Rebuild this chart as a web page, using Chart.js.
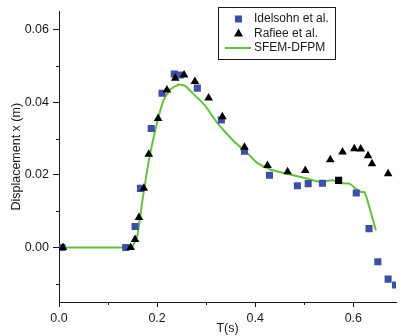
<!DOCTYPE html>
<html><head><meta charset="utf-8">
<script src="https://cdn.jsdelivr.net/npm/chart.js@4"></script>
<style>html,body{margin:0;padding:0;background:#fff}</style>
</head><body>
<canvas id="c" width="401" height="336"></canvas>
<script>
// ---- data ----
const idelsohnT = [0.006, 0.136, 0.155, 0.166, 0.188, 0.210, 0.235, 0.247, 0.282, 0.331, 0.378, 0.429, 0.486, 0.508, 0.537, 0.606, 0.632, 0.650, 0.671, 0.686];
const idelsohnX = [0, 0, 0.0058, 0.0163, 0.0328, 0.0425, 0.0478, 0.0475, 0.0439, 0.0351, 0.0265, 0.0199, 0.0170, 0.0176, 0.0177, 0.0150, 0.0052, -0.0039, -0.0087, -0.0103];
const extraT = [0.570];
const extraX = [0.0185];
const rafieeT = [0.008, 0.146, 0.155, 0.163, 0.173, 0.183, 0.202, 0.220, 0.237, 0.255, 0.277, 0.305, 0.333, 0.378, 0.425, 0.466, 0.502, 0.553, 0.578, 0.602, 0.615, 0.630, 0.638, 0.671];
const rafieeX = [0, 0, 0.0022, 0.0083, 0.0163, 0.0257, 0.0355, 0.0434, 0.0466, 0.0475, 0.0457, 0.0412, 0.0360, 0.0276, 0.0226, 0.0209, 0.0212, 0.0242, 0.0263, 0.0272, 0.0271, 0.0253, 0.0231, 0.0203];
const sfemT = [0, 0.143, 0.147, 0.159, 0.170, 0.183, 0.197, 0.213, 0.227, 0.245, 0.258, 0.277, 0.297, 0.321, 0.337, 0.357, 0.384, 0.404, 0.431, 0.471, 0.505, 0.532, 0.559, 0.569, 0.592, 0.606, 0.616, 0.622, 0.627, 0.646];
const sfemX = [0, 0, -0.0003, 0.0029, 0.0129, 0.0238, 0.0328, 0.0405, 0.0435, 0.0449, 0.0444, 0.0419, 0.0392, 0.0346, 0.0321, 0.0292, 0.0260, 0.0233, 0.0215, 0.0201, 0.0190, 0.0181, 0.0185, 0.0178, 0.0176, 0.0161, 0.0153, 0.0153, 0.0138, 0.0047];
const seriesNames = ['Idelsohn et al.', 'Rafiee et al.', 'SFEM-DFPM'];
const xMajorTicks = [0, 0.2, 0.4, 0.6];
const xMinorTicks = [0.1, 0.3, 0.5];
const yMajorTicks = [0, 0.02, 0.04, 0.06];
const yMinorTicks = [-0.01, 0.01, 0.03, 0.05];
const xTitle = 'T(s)';
const yTitle = 'Displacement x (m)';

const pts = (t, v) => t.map((a, i) => ({x: a, y: v[i]}));
const BLUE = '#3d50a5', GREEN = '#66c140', INK = '#1a1a1a';
const FONT = {family: 'Liberation Sans, Arial, sans-serif', size: 12.5};

const overlay = {
  id: 'overlay',
  afterDraw(chart) {
    const {ctx, scales: {x, y}, chartArea: a} = chart;
    ctx.save();
    ctx.strokeStyle = INK; ctx.lineWidth = 1;
    ctx.beginPath();
    xMinorTicks.forEach(v => { const px = Math.round(x.getPixelForValue(v)) + 0.5; ctx.moveTo(px, a.bottom); ctx.lineTo(px, a.bottom + 3); });
    yMinorTicks.forEach(v => { const py = Math.round(y.getPixelForValue(v)) + 0.5; ctx.moveTo(a.left, py); ctx.lineTo(a.left - 3, py); });
    ctx.stroke();
    // legend
    ctx.fillStyle = '#fff';
    ctx.fillRect(218.5, 7.5, 117, 52);
    ctx.strokeStyle = INK; ctx.lineWidth = 1;
    ctx.strokeRect(218.5, 7.5, 117, 52);
    ctx.font = '12px "Liberation Sans", Arial, sans-serif';
    ctx.textBaseline = 'middle';
    const rows = [19, 33.5, 48];
    ctx.fillStyle = BLUE; ctx.fillRect(235, rows[0] - 3.5, 7, 7);
    ctx.fillStyle = '#000';
    ctx.beginPath(); ctx.moveTo(238.5, rows[1] - 5); ctx.lineTo(243, rows[1] + 3); ctx.lineTo(234, rows[1] + 3); ctx.closePath(); ctx.fill();
    ctx.strokeStyle = GREEN; ctx.lineWidth = 2;
    ctx.beginPath(); ctx.moveTo(225, rows[2]); ctx.lineTo(251, rows[2]); ctx.stroke();
    ctx.fillStyle = INK;
    seriesNames.forEach((n, i) => ctx.fillText(n, 254, rows[i]));
    ctx.restore();
  }
};

new Chart(document.getElementById('c'), {
  type: 'scatter',
  data: {
    datasets: [
      {label: seriesNames[2], type: 'line', data: pts(sfemT, sfemX), borderColor: GREEN, borderWidth: 2, pointRadius: 0, tension: 0.2, fill: false, order: 3},
      {label: seriesNames[0], data: pts(idelsohnT, idelsohnX), pointStyle: 'rect', pointRadius: 5, backgroundColor: BLUE, borderColor: BLUE, borderWidth: 0, order: 2},
      {label: '', data: pts(extraT, extraX), pointStyle: 'rect', pointRadius: 5, backgroundColor: '#000', borderWidth: 0, order: 2},
      {label: seriesNames[1], data: pts(rafieeT, rafieeX), pointStyle: 'triangle', pointRadius: 5, backgroundColor: '#000', borderColor: '#000', borderWidth: 0, order: 1}
    ]
  },
  options: {
    responsive: false, animation: false, devicePixelRatio: 1,
    layout: {padding: {top: 8, right: 0, left: 0, bottom: 0}},
    plugins: {legend: {display: false}, tooltip: {enabled: false}},
    scales: {
      x: {
        type: 'linear', min: 0, max: 0.687,
        afterBuildTicks: s => { s.ticks = xMajorTicks.map(v => ({value: v})); },
        afterFit: s => { s.height = 34; },
        ticks: {color: INK, font: FONT, padding: 4, maxRotation: 0, callback: v => v.toFixed(1)},
        grid: {drawOnChartArea: false, drawTicks: true, tickLength: 5, color: INK},
        border: {display: true, color: INK, width: 1},
        title: {display: true, text: xTitle, color: INK, font: FONT, padding: {top: 0, bottom: 0}}
      },
      y: {
        type: 'linear', min: -0.015, max: 0.065,
        afterBuildTicks: s => { s.ticks = yMajorTicks.map(v => ({value: v})); },
        afterFit: s => { s.width = 59; },
        ticks: {color: INK, font: FONT, padding: 4, callback: v => v.toFixed(2)},
        grid: {drawOnChartArea: false, drawTicks: true, tickLength: 6, color: INK},
        border: {display: true, color: INK, width: 1},
        title: {display: true, text: yTitle, color: INK, font: FONT, padding: {top: 9, bottom: 0}}
      }
    }
  },
  plugins: [overlay]
});
</script>
</body></html>
